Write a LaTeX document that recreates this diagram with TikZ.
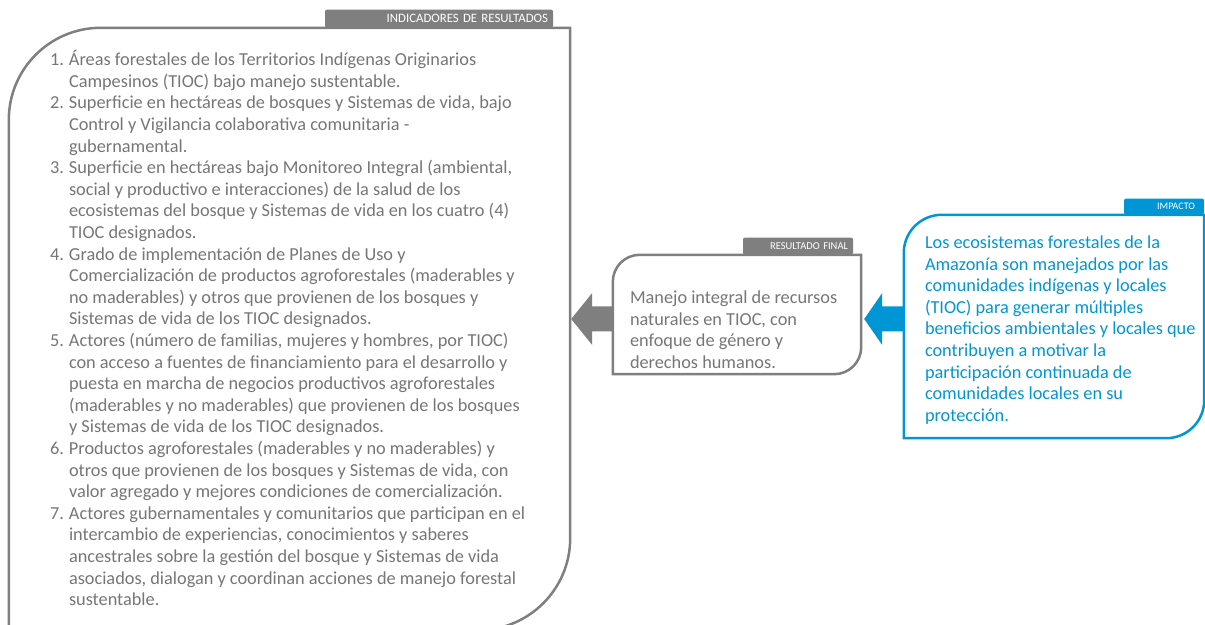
\documentclass[tikz,border=0pt]{standalone}
\usepackage{fontspec}
\setmainfont{Carlito}
\usetikzlibrary{calc}
\definecolor{framegray}{RGB}{127,127,127}
\definecolor{textgray}{RGB}{118,118,118}
\definecolor{impblue}{RGB}{0,150,214}
\tikzset{leafbox/.style={inner sep=0pt},
  tab/.style={fill=#1, text=white, rounded corners=2pt, anchor=south east, inner xsep=5pt, inner ysep=0pt, align=right},
  boxtext/.style={anchor=north west, inner sep=0pt, font=\fontsize{18.3}{21.6}\selectfont}}
\newcommand{\leafframe}[3]{%
  \draw[#3, line width=2.5pt] (#1.north east) -- ([yshift=#2]#1.south east) arc[start angle=0, end angle=-90, radius=#2]
    -- (#1.south west) -- ([yshift=-#2]#1.north west) arc[start angle=180, end angle=90, radius=#2] -- cycle;}
\newcommand{\blockarrow}[4]{%
  \fill[#3] ($(#1)+(0,12.5)$) -- ($(#2)+(#4,12.5)$) -- ($(#2)+(#4,26)$) -- (#2) -- ($(#2)+(#4,-26)$)
    -- ($(#2)+(#4,-12.5)$) -- ($(#1)+(0,-12.5)$) -- cycle;}

\begin{document}
\begin{tikzpicture}[x=1pt,y=1pt]
    \useasboundingbox (0,0) rectangle (1205,624);
    \clip (0,0) rectangle (1205,624);

    \node[leafbox, minimum width=561pt, minimum height=602pt](ind)at(289.5,295){};
    \node[leafbox, minimum width=248pt, minimum height=119pt](res)at(737,309.5){};
    \node[leafbox, minimum width=300pt, minimum height=223pt](imp)at(1054,297.5){};

    \coordinate(ga)at([yshift=-4.5pt]res.west);
    \coordinate(gb)at([xshift=1pt]ind.east |- ga);
    \coordinate(ba)at(imp.west |- ga);
    \coordinate(bb)at([xshift=3pt]res.east |- ga);
    \blockarrow{ga}{gb}{framegray}{21}
    \blockarrow{ba}{bb}{impblue}{18}

    \leafframe{ind}{92pt}{framegray}
    \leafframe{res}{27pt}{framegray}
    \leafframe{imp}{38pt}{impblue}

    \node[tab=framegray, minimum width=228pt, minimum height=18pt, text width=218pt, font=\fontsize{12.8}{13}\selectfont](indtab)at([xshift=-17pt]ind.north east){INDICADORES DE RESULTADOS};
    \node[tab=framegray, minimum width=110pt, minimum height=17pt, text width=100pt, font=\fontsize{10.5}{11}\selectfont](restab)at([xshift=-8pt]res.north east){RESULTADO FINAL};
    \node[tab=impblue, minimum width=80pt, minimum height=16pt, inner xsep=9pt, text width=62pt, font=\fontsize{10}{11}\selectfont](imptab)at(imp.north east){IMPACTO};

    \node[boxtext, text=textgray](indtxt)at([shift={(41pt,-22.4pt)}]ind.north west){%
    \begin{tabular}{@{}p{19pt}@{}l@{}}
    1. & Áreas forestales de los Territorios Indígenas Originarios\\
       & Campesinos (TIOC) bajo manejo sustentable.\\
    2. & Superficie en hectáreas de bosques y Sistemas de vida, bajo\\
       & Control y Vigilancia colaborativa comunitaria -\\
       & gubernamental.\\
    3. & Superficie en hectáreas bajo Monitoreo Integral (ambiental,\\
       & social y productivo e interacciones) de la salud de los\\
       & ecosistemas del bosque y Sistemas de vida en los cuatro (4)\\
       & TIOC designados.\\
    4. & Grado de implementación de Planes de Uso y\\
       & Comercialización de productos agroforestales (maderables y\\
       & no maderables) y otros que provienen de los bosques y\\
       & Sistemas de vida de los TIOC designados.\\
    5. & Actores (número de familias, mujeres y hombres, por TIOC)\\
       & con acceso a fuentes de financiamiento para el desarrollo y\\
       & puesta en marcha de negocios productivos agroforestales\\
       & (maderables y no maderables) que provienen de los bosques\\
       & y Sistemas de vida de los TIOC designados.\\
    6. & Productos agroforestales (maderables y no maderables) y\\
       & otros que provienen de los bosques y Sistemas de vida, con\\
       & valor agregado y mejores condiciones de comercialización.\\
    7. & Actores gubernamentales y comunitarios que participan en el\\
       & intercambio de experiencias, conocimientos y saberes\\
       & ancestrales sobre la gestión del bosque y Sistemas de vida\\
       & asociados, dialogan y coordinan acciones de manejo forestal\\
       & sustentable.
    \end{tabular}};

    \node[boxtext, text=textgray](restxt)at([shift={(17pt,-33.5pt)}]res.north west){%
    \begin{tabular}{@{}l@{}}
    Manejo integral de recursos\\
    naturales en TIOC, con\\
    enfoque de género y\\
    derechos humanos.
    \end{tabular}};

    \node[boxtext, text=impblue](imptxt)at([shift={(21pt,-18.4pt)}]imp.north west){%
    \begin{tabular}{@{}l@{}}
    Los ecosistemas forestales de la\\
    Amazonía son manejados por las\\
    comunidades indígenas y locales\\
    (TIOC) para generar múltiples\\
    beneficios ambientales y locales que\\
    contribuyen a motivar la\\
    participación continuada de\\
    comunidades locales en su\\
    protección.
    \end{tabular}};
\end{tikzpicture}
\end{document}
